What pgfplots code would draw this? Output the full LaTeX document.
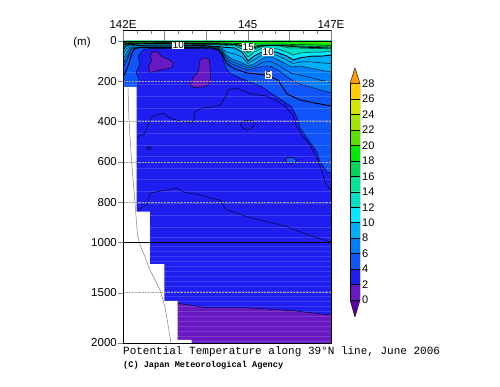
\documentclass[border=0pt]{standalone}
\usepackage{fontspec}
\setmainfont{Liberation Sans}
\newfontfamily\monofont{Liberation Mono}
\usepackage{pgfplots}
\pgfplotsset{compat=1.18}

\definecolor{cm}{RGB}{90,0,160}
\definecolor{c0}{RGB}{105,25,195}
\definecolor{c2}{RGB}{30,30,240}
\definecolor{c4}{RGB}{15,85,250}
\definecolor{c6}{RGB}{0,125,250}
\definecolor{c8}{RGB}{0,175,250}
\definecolor{c10}{RGB}{0,235,255}
\definecolor{c12}{RGB}{0,225,200}
\definecolor{c14}{RGB}{0,230,150}
\definecolor{c16}{RGB}{0,215,90}
\definecolor{c18}{RGB}{0,235,0}
\definecolor{c20}{RGB}{90,225,0}
\definecolor{c22}{RGB}{160,230,0}
\definecolor{c24}{RGB}{210,230,0}
\definecolor{c26}{RGB}{255,205,0}
\definecolor{c28}{RGB}{255,155,0}

\begin{document}
\begin{tikzpicture}
\path[use as bounding box] (-123pt,-44pt) rectangle (377pt,343pt);

% ---------------- main section (depth > 1000 m compressed by 2) ----------------
\begin{axis}[at={(0pt,0pt)}, anchor=south west, scale only axis,
  width=208pt, height=302pt,
  xmin=142, xmax=147, ymin=0, ymax=1500, y dir=reverse,
  axis on top, xtick=\empty,
  ytick={0,200,400,600,800,1000,1250,1500},
  yticklabels={0,200,400,600,800,1000,1500,2000},
  ytick pos=left, ytick align=outside, major tick length=5pt,
  yticklabel style={font=\fontsize{11.5}{13}\selectfont, inner sep=1pt},
  axis line style={black, line width=0.6pt}]

% background 2-4
\addplot[fill=c2, draw=none] coordinates {(142,0)(147,0)(147,1500)(142,1500)};
% deep 0-2
\addplot[fill=c0, draw=none] coordinates {(143.315,1303)(144.012,1325)(144.974,1325)(146.094,1340)(147,1361)(147,1500)(143.315,1500)};
% >4
\addplot[fill=c4, draw=none] coordinates {(142,0)(142,228)(142.337,228)(142.385,194)(142.313,154)(142.409,114)(142.361,75)(142.481,45)(142.649,37)(143.250,36)(143.851,37)(144.284,40)(144.380,75)(144.476,134)(144.572,159)(144.813,184)(145.053,204)(145.341,228)(145.582,263)(145.846,298)(146.059,328)(146.207,392)(146.255,432)(146.423,482)(146.663,551)(146.736,601)(146.904,651)(147,656)(147,0)};
\addplot[fill=c4, draw=black, line width=0.4pt] coordinates {(145.894,591)(145.966,578)(146.087,578)(146.183,593)(146.087,608)(145.966,606)(145.894,591)};
% >6
\addplot[fill=c6, draw=none] coordinates {(142,0)(142,130)(142.072,105)(142.144,70)(142.216,40)(142.409,30)(143.851,30)(144.139,32)(144.284,40)(144.380,60)(144.476,94)(144.620,114)(144.813,129)(145.005,144)(145.197,134)(145.389,124)(145.534,124)(145.726,144)(145.918,174)(146.059,194)(146.255,214)(146.495,228)(146.736,243)(147,258)(147,0)};
% >8
\addplot[fill=c8, draw=none] coordinates {(142,0)(142,90)(142.072,65)(142.144,40)(142.240,25)(142.409,25)(143.851,25)(144.139,27)(144.284,32)(144.380,45)(144.476,70)(144.620,89)(144.813,104)(145.005,124)(145.149,114)(145.293,94)(145.438,80)(145.582,80)(145.726,94)(145.918,114)(146.059,129)(146.255,124)(146.495,134)(146.736,144)(147,154)(147,0)};
% >10
\addplot[fill=c10, draw=none] coordinates {(142,0)(142,45)(142.072,25)(142.168,17)(142.409,20)(143.322,20)(143.851,22)(144.139,25)(144.284,27)(144.380,30)(144.692,35)(144.861,55)(145.005,99)(145.149,75)(145.341,55)(145.486,50)(145.678,55)(145.942,75)(146.087,94)(146.255,84)(146.543,75)(146.784,75)(147,70)(147,0)};
% >12
\addplot[fill=c12, draw=none] coordinates {(142,0)(142,30)(142.168,15)(142.409,15)(144.139,17)(144.380,22)(144.692,25)(144.861,40)(145.005,80)(145.149,55)(145.341,37)(145.534,35)(145.726,40)(145.942,55)(146.087,70)(146.255,60)(146.543,55)(146.784,55)(147,50)(147,0)};
% >14
\addplot[fill=c14, draw=none] coordinates {(142,0)(142,22)(142.168,12)(144.139,15)(144.380,17)(144.692,20)(144.861,30)(145.005,60)(145.149,40)(145.341,27)(145.534,22)(145.774,25)(146.011,35)(146.255,35)(146.615,37)(147,40)(147,0)};
% >16
\addplot[fill=c16, draw=none] coordinates {(142,0)(142,15)(142.168,10)(144.139,12)(144.572,15)(144.813,20)(145.005,40)(145.149,27)(145.341,20)(145.774,20)(146.255,25)(147,30)(147,0)};
% >18
\addplot[fill=c18, draw=none] coordinates {(142,0)(142,7)(144.139,9)(144.813,12)(145.005,25)(145.197,15)(145.774,15)(147,22)(147,0)};
% >20
\addplot[fill=c20, draw=none] coordinates {(142,0)(142,2.5)(143.851,2.5)(145.053,5)(147,10)(147,0)};

% cold cores 0-2
\addplot[fill=c0, draw=black, line width=0.4pt] coordinates {(142.690,58)(142.769,50)(142.849,58)(142.930,78)(143.089,91)(143.209,108)(143.171,133)(142.969,141)(142.810,149)(142.649,157)(142.608,124)(142.690,99)(142.649,75)(142.690,58)};
\addplot[fill=c0, draw=black, line width=0.4pt] coordinates {(143.851,94)(143.971,83)(144.075,94)(144.092,136)(144.108,185)(144.051,219)(143.930,227)(143.731,232)(143.611,219)(143.676,185)(143.810,152)(143.834,119)(143.851,94)};

% faint horizontal stripes
\pgfplotsinvokeforeach{154,214,273,333,392,457,517,571,631,686,745,805,864,924,973}{
  \addplot[white, opacity=0.16, line width=0.5pt] coordinates {(142,#1)(147,#1)};}
\pgfplotsinvokeforeach{1018,1043,1068,1093,1118,1143,1167,1192,1217,1242,1267,1291,1316,1341,1366,1391,1416,1441,1465,1490}{
  \addplot[white, opacity=0.14, line width=0.5pt] coordinates {(142,#1)(147,#1)};}

% contour lines
\addplot[black, line width=0.4pt] coordinates {(143.315,1303)(144.012,1325)(144.974,1325)(146.094,1340)(147,1361)};
\addplot[black, line width=0.4pt] coordinates {(142.337,228)(142.385,194)(142.313,154)(142.409,114)(142.361,75)(142.481,45)(142.649,37)(143.250,36)(143.851,37)(144.284,40)(144.380,75)(144.476,134)(144.572,159)(144.813,184)(145.053,204)(145.341,228)(145.582,263)(145.846,298)(146.059,328)(146.207,392)(146.255,432)(146.423,482)(146.663,551)(146.736,601)(146.904,651)(147,656)};
\addplot[black, line width=0.9pt] coordinates {(142,180)(142.072,150)(142.144,110)(142.216,60)(142.289,38)(142.409,33)(143.851,33)(144.139,35)(144.284,45)(144.380,65)(144.500,114)(144.692,139)(144.981,159)(145.293,166)(145.486,171)(145.726,194)(145.942,263)(146.255,293)(146.615,308)(147,323)};
\addplot[black, line width=0.4pt] coordinates {(142,130)(142.072,105)(142.144,70)(142.216,40)(142.409,30)(143.851,30)(144.139,32)(144.284,40)(144.380,60)(144.476,94)(144.620,114)(144.813,129)(145.005,144)(145.197,134)(145.389,124)(145.534,124)(145.726,144)(145.918,174)(146.059,194)(146.255,214)(146.495,228)(146.736,243)(147,258)};
\addplot[black, line width=0.4pt] coordinates {(142,115)(142.072,90)(142.144,58)(142.216,35)(142.409,29)(143.851,29)(144.139,30)(144.284,36)(144.380,52)(144.476,82)(144.620,102)(144.813,117)(145.005,134)(145.197,124)(145.389,104)(145.534,102)(145.726,119)(145.918,144)(146.059,161)(146.255,169)(146.495,181)(146.736,194)(147,206)};
\addplot[black, line width=0.4pt] coordinates {(142,90)(142.072,65)(142.144,40)(142.240,25)(142.409,25)(143.851,25)(144.139,27)(144.284,32)(144.380,45)(144.476,70)(144.620,89)(144.813,104)(145.005,124)(145.149,114)(145.293,94)(145.438,80)(145.582,80)(145.726,94)(145.918,114)(146.059,129)(146.255,124)(146.495,134)(146.736,144)(147,154)};
\addplot[black, line width=0.4pt] coordinates {(142,65)(142.072,42)(142.144,28)(142.240,22)(142.409,22)(143.851,23)(144.139,26)(144.284,30)(144.380,37)(144.476,55)(144.692,65)(144.861,80)(145.005,112)(145.149,94)(145.293,75)(145.486,65)(145.678,70)(145.942,94)(146.087,112)(146.255,104)(146.543,104)(146.784,109)(147,112)};
\addplot[black, line width=0.9pt] coordinates {(142,45)(142.072,25)(142.168,17)(142.409,20)(143.322,20)(143.851,22)(144.139,25)(144.284,27)(144.380,30)(144.692,35)(144.861,55)(145.005,99)(145.149,75)(145.341,55)(145.486,50)(145.678,55)(145.942,75)(146.087,94)(146.255,84)(146.543,75)(146.784,75)(147,70)};
\addplot[black, line width=0.4pt] coordinates {(142,30)(142.168,15)(142.409,15)(144.139,17)(144.380,22)(144.692,25)(144.861,40)(145.005,80)(145.149,55)(145.341,37)(145.534,35)(145.726,40)(145.942,55)(146.087,70)(146.255,60)(146.543,55)(146.784,55)(147,50)};
\addplot[black, line width=0.4pt] coordinates {(142,22)(142.168,12)(144.139,15)(144.380,17)(144.692,20)(144.861,30)(145.005,60)(145.149,40)(145.341,27)(145.534,22)(145.774,25)(146.011,35)(146.255,35)(146.615,37)(147,40)};
\addplot[black, line width=0.9pt] coordinates {(142,18)(142.168,11)(144.139,13.5)(144.380,15)(144.692,17)(144.861,25)(145.005,50)(145.149,33)(145.341,23)(145.774,22)(146.255,30)(147,35)};
\addplot[black, line width=0.4pt] coordinates {(142,15)(142.168,10)(144.139,12)(144.572,15)(144.813,20)(145.005,40)(145.149,27)(145.341,20)(145.774,20)(146.255,25)(147,30)};
\addplot[black, line width=0.4pt] coordinates {(142,7)(144.139,9)(144.813,12)(145.005,25)(145.197,15)(145.774,15)(147,22)};
% weak deep contours
\addplot[black, line width=0.4pt] coordinates {(142.329,482)(142.529,457)(142.649,392)(142.697,376)(142.962,358)(143.130,383)(143.370,397)(143.659,407)(143.707,392)(143.731,353)(143.899,333)(144.139,328)(144.332,318)(144.452,283)(144.524,243)(144.716,233)(145.005,258)(145.245,268)(145.438,273)(145.654,293)(145.894,323)(146.087,368)(146.155,417)(146.299,467)(146.495,517)(146.688,591)(146.784,651)(146.880,715)(147,740)};
\addplot[black, line width=0.4pt] coordinates {(142.329,848)(142.601,805)(142.649,755)(143.050,740)(143.291,730)(143.442,749)(143.851,765)(144.091,780)(144.332,790)(144.493,839)(144.733,854)(144.974,873)(145.293,889)(145.606,904)(145.935,922)(146.255,947)(146.567,972)(147,998)};
\addplot[black, line width=0.4pt] coordinates {(142.570,531)(142.625,524)(142.685,531)(142.625,541)(142.570,531)};
\addplot[black, line width=0.4pt] coordinates {(144.813,417)(144.894,397)(145.053,392)(145.173,404)(145.133,426)(145.013,442)(144.894,434)(144.813,417)};

% bottom topography
\addplot[fill=white, draw=none] coordinates {(142,228)(142.329,228)(142.329,848)(142.649,848)(142.649,1108)(142.993,1108)(142.993,1291)(143.315,1291)(143.315,1485)(143.651,1485)(143.651,1500)(142,1500)};
\addplot[gray, line width=0.5pt] coordinates {(142.120,233)(142.144,392)(142.209,606)(142.288,805)(142.349,964)(142.409,1013)(142.529,1073)(142.649,1137)(142.769,1187)(142.889,1237)(143.010,1321)(143.154,1500)};
% depth grid
\pgfplotsinvokeforeach{200,400,600,800,1250}{
  \addplot[gray!70, densely dotted, line width=0.45pt] coordinates {(142,#1)(147,#1)};}
% 1000 m line
\addplot[black, line width=1pt] coordinates {(142,1000)(147,1000)};

% contour labels
\node[fill=white, inner sep=0.6pt, font=\fontsize{10}{11}\selectfont] at (axis cs:143.329,20) {10};
\node[fill=white, inner sep=0.6pt, font=\fontsize{10}{11}\selectfont] at (axis cs:145.012,28) {15};
\node[fill=white, inner sep=0.6pt, font=\fontsize{10}{11}\selectfont] at (axis cs:145.493,53) {10};
\node[fill=white, inner sep=0.6pt, font=\fontsize{10}{11}\selectfont] at (axis cs:145.493,169) {5};
\end{axis}

% ---------------- top longitude axis ----------------
\begin{axis}[at={(0pt,302pt)}, anchor=south west, scale only axis,
  width=208pt, height=11pt, xmin=142, xmax=147, ymin=0, ymax=1,
  axis x line=top, axis y line=none, axis line style={-, line width=0.6pt},
  xtick={142,143,144,145,146,147}, xticklabels={142E,,,145,,147E},
  minor xtick={142.333,142.667,143.333,143.667,144.333,144.667,145.333,145.667,146.333,146.667},
  xtick align=inside, major tick length=11pt, minor tick length=4pt,
  xticklabel style={font=\fontsize{11.5}{13}\selectfont, inner sep=1pt}]
\addplot[draw=none] coordinates {(142,0)(147,1)};
\end{axis}

% ---------------- colour bar ----------------
\begin{axis}[at={(227pt,26pt)}, anchor=south west, scale only axis,
  width=10pt, height=249pt, xmin=0, xmax=1, ymin=-2.2, ymax=30,
  axis line style={draw=none}, xtick=\empty,
  ytick={0,2,4,6,8,10,12,14,16,18,20,22,24,26,28},
  yticklabels={0,2,4,6,8,10,12,14,16,18,20,22,24,26,28},
  ytick pos=right, major tick length=0pt,
  yticklabel style={font=\fontsize{11}{12}\selectfont, inner sep=1pt, xshift=1pt}]
\addplot[fill=cm, draw=black, line width=0.4pt] coordinates {(0,0)(1,0)(0.5,-2.2)(0,0)};
\addplot[fill=c0, draw=black, line width=0.4pt] coordinates {(0,0)(1,0)(1,2)(0,2)(0,0)};
\addplot[fill=c2, draw=black, line width=0.4pt] coordinates {(0,2)(1,2)(1,4)(0,4)(0,2)};
\addplot[fill=c4, draw=black, line width=0.4pt] coordinates {(0,4)(1,4)(1,6)(0,6)(0,4)};
\addplot[fill=c6, draw=black, line width=0.4pt] coordinates {(0,6)(1,6)(1,8)(0,8)(0,6)};
\addplot[fill=c8, draw=black, line width=0.4pt] coordinates {(0,8)(1,8)(1,10)(0,10)(0,8)};
\addplot[fill=c10, draw=black, line width=0.4pt] coordinates {(0,10)(1,10)(1,12)(0,12)(0,10)};
\addplot[fill=c12, draw=black, line width=0.4pt] coordinates {(0,12)(1,12)(1,14)(0,14)(0,12)};
\addplot[fill=c14, draw=black, line width=0.4pt] coordinates {(0,14)(1,14)(1,16)(0,16)(0,14)};
\addplot[fill=c16, draw=black, line width=0.4pt] coordinates {(0,16)(1,16)(1,18)(0,18)(0,16)};
\addplot[fill=c18, draw=black, line width=0.4pt] coordinates {(0,18)(1,18)(1,20)(0,20)(0,18)};
\addplot[fill=c20, draw=black, line width=0.4pt] coordinates {(0,20)(1,20)(1,22)(0,22)(0,20)};
\addplot[fill=c22, draw=black, line width=0.4pt] coordinates {(0,22)(1,22)(1,24)(0,24)(0,22)};
\addplot[fill=c24, draw=black, line width=0.4pt] coordinates {(0,24)(1,24)(1,26)(0,26)(0,24)};
\addplot[fill=c26, draw=black, line width=0.4pt] coordinates {(0,26)(1,26)(1,28)(0,28)(0,26)};
\addplot[fill=c28, draw=black, line width=0.4pt] coordinates {(0,28)(1,28)(0.5,30)(0,28)};
\end{axis}

\node[font=\fontsize{11.5}{13}\selectfont] at (-41pt,300pt) {(m)};
\node[anchor=base west, inner sep=0pt] at (0pt,-12pt) {\monofont\fontsize{11}{13}\selectfont Potential Temperature along 39°N line, June 2006};
\node[anchor=base west, inner sep=0pt] at (0pt,-25pt) {\monofont\bfseries\fontsize{8.6}{10}\selectfont (C) Japan Meteorological Agency};
\end{tikzpicture}
\end{document}
